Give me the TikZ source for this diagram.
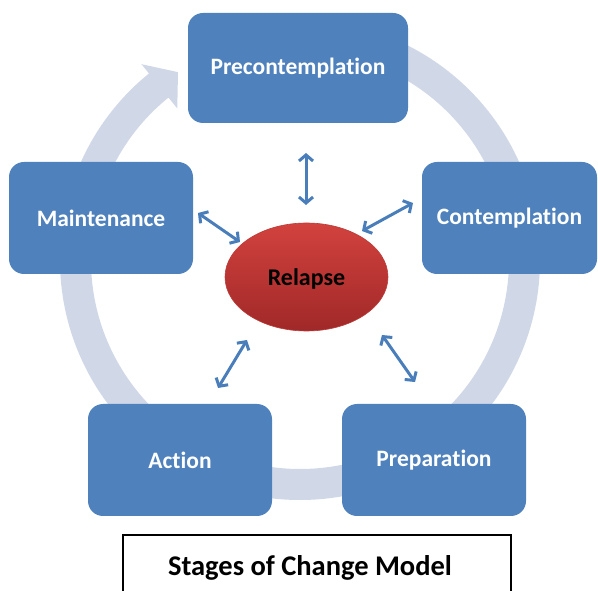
\documentclass[tikz,border=0pt]{standalone}
\usepackage{fontspec}
\setmainfont{Carlito}[Ligatures=NoCommon]
\usetikzlibrary{arrows.meta,shapes.geometric}

\definecolor{stageblue}{RGB}{79,129,189}
\definecolor{ringgray}{RGB}{208,216,232}
\definecolor{linkblue}{RGB}{74,126,187}
\definecolor{relapsetop}{RGB}{210,66,62}
\definecolor{relapsebot}{RGB}{160,40,40}
\definecolor{relapseedge}{RGB}{185,60,56}

\tikzset{
  stage/.style={rectangle, rounded corners=15pt, fill=stageblue,
    text=white, font=\fontsize{23.5}{27}\selectfont\bfseries,
    minimum width=#1, minimum height=112pt, inner sep=0pt},
  relapsenode/.style={ellipse, minimum width=163pt, minimum height=108pt,
    top color=relapsetop, bottom color=relapsebot, draw=relapseedge,
    line width=0.6pt, font=\fontsize{24}{27}\selectfont\bfseries,
    text=black, inner sep=0pt},
  link/.style={{Straight Barb[length=6pt,width=14pt]}-{Straight Barb[length=6pt,width=14pt]},
    line width=3pt, draw=linkblue},
  captionbox/.style={draw=black, line width=1.4pt, fill=white}
}

\begin{document}
\begin{tikzpicture}[x=1pt,y=1pt]
  \useasboundingbox (0,0) rectangle (598,590);
  \clip (0,0) rectangle (598,590);

  % circular flow ring with its arrowhead
  \begin{scope}[shift={(300,330)}]
    \fill[ringgray]
      (90:240) arc[start angle=90, end angle=-231, radius=240]
      -- (-231:252) -- (-237:224) -- (-231:195) -- (-231:209)
      arc[start angle=-231, end angle=90, radius=209] -- cycle;
  \end{scope}

  % stages
  \node[stage=220pt, minimum height=110pt] (pre)  at (298,522) {Precontemplation};
  \node[stage=175pt] (con)  at (509.5,372) {Contemplation};
  \node[stage=184pt] (mai)  at (101,372)   {Maintenance};
  \node[stage=184pt] (act)  at (180,130)   {Action};
  \node[stage=184pt] (prep) at (434,130)   {Preparation};

  % relapse in the middle (label set a little below the centre)
  \node[relapsenode] (rel) at (306.5,313) {\raisebox{-8.5pt}[0pt][0pt]{Relapse}};

  % end points of the two-way links
  \coordinate (preA) at (306,437); \coordinate (preB) at (306,385);
  \coordinate (conA) at (413,387); \coordinate (conB) at (362,359);
  \coordinate (maiA) at (198,377); \coordinate (maiB) at (240,348);
  \coordinate (actA) at (218,202); \coordinate (actB) at (247,250);
  \coordinate (prepA) at (415,208); \coordinate (prepB) at (382,255);

  \draw[link] (preA) -- (preB);
  \draw[link] (conA) -- (conB);
  \draw[link] (maiA) -- (maiB);
  \draw[link] (actA) -- (actB);
  \draw[link] (prepA) -- (prepB);

  % caption
  \draw[captionbox] (123,-10) rectangle (511,55);
  \node[font=\fontsize{28.5}{32}\selectfont\bfseries] (cap) at (310,22) {Stages of Change Model};
\end{tikzpicture}
\end{document}
